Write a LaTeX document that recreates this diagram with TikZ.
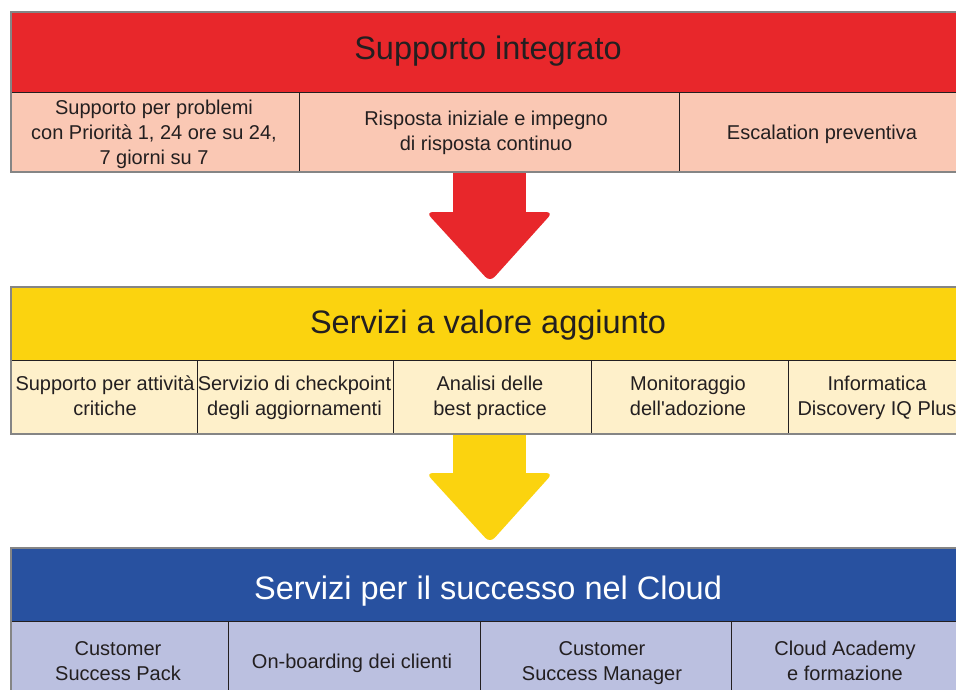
\documentclass[tikz,border=0pt]{standalone}
\usepackage{fontspec}
\setmainfont{Liberation Sans}
\newfontfamily\plainap{Liberation Sans}
\definecolor{redA}{HTML}{E8272B}
\definecolor{salmonA}{HTML}{FAC8B4}
\definecolor{yellowA}{HTML}{FBD30F}
\definecolor{creamA}{HTML}{FEF0CA}
\definecolor{blueA}{HTML}{2851A0}
\definecolor{lavA}{HTML}{BBC0E0}
\definecolor{inkA}{HTML}{231F20}
\definecolor{edgeA}{HTML}{858585}
\tikzset{
  outline/.style={draw=edgeA, line width=1.5pt},
  sepline/.style={draw=inkA, line width=1pt},
  titletext/.style={font=\fontsize{32.5}{38}\selectfont, text=inkA, inner sep=0pt, anchor=base},
  celltext/.style={font=\fontsize{20}{25}\selectfont, text=inkA, align=center, inner sep=0pt},
}
\newcommand\lnst{\strut}
\begin{document}
\begin{tikzpicture}[x=1pt,y=-1pt]
\useasboundingbox (0,0) rectangle (956,689);
\fill[white] (0,0) rectangle (956,689);

% arrows (drawn first, boxes cover shaft tops)
\fill[redA] (453,165) rectangle (526,214);
\fill[redA, rounded corners=7pt] (426,212) -- (490,282) -- (553,212) -- cycle;
\fill[yellowA] (453,428) rectangle (526,475);
\fill[yellowA, rounded corners=7pt] (426,473) -- (490,543) -- (553,473) -- cycle;

% box 1
\fill[redA] (11,12) rectangle (975,92);
\fill[salmonA] (11,92) rectangle (975,172);
\draw[sepline] (11,92) -- (975,92);
\draw[sepline] (299,92) -- (299,172);
\draw[sepline] (679,92) -- (679,172);
\draw[outline] (975,12) -- (11,12) -- (11,172) -- (975,172);

% box 2
\fill[yellowA] (11,287) rectangle (975,360);
\fill[creamA] (11,360) rectangle (975,434);
\draw[sepline] (11,360) -- (975,360);
\draw[sepline] (197,360) -- (197,434);
\draw[sepline] (393,360) -- (393,434);
\draw[sepline] (591,360) -- (591,434);
\draw[sepline] (788,360) -- (788,434);
\draw[outline] (975,287) -- (11,287) -- (11,434) -- (975,434);

% box 3
\fill[blueA] (11,548) rectangle (975,621);
\fill[lavA] (11,621) rectangle (975,700);
\draw[sepline] (11,621) -- (975,621);
\draw[sepline] (228,621) -- (228,700);
\draw[sepline] (480,621) -- (480,700);
\draw[sepline] (731,621) -- (731,700);
\draw[outline] (975,548) -- (11,548) -- (11,700);

% titles
\node[titletext] (t1) at (488,59) {Supporto integrato};
\node[titletext] (t2) at (488,333) {Servizi a valore aggiunto};
\node[titletext, text=white] (t3) at (488,599) {Servizi per il successo nel Cloud};

% row 1
\node[celltext] (a1) at (154,134.5) {\lnst Supporto per problemi\\\lnst con Priorità 1, 24 ore su 24,\\\lnst 7 giorni su 7};
\node[celltext] (a2) at (486,132.5) {\lnst Risposta iniziale e impegno\\\lnst di risposta continuo};
\node[celltext] (a3) at (822,134) {\lnst Escalation preventiva};

% row 2
\node[celltext] (b1) at (105,397.5) {\lnst Supporto per attività\\\lnst critiche};
\node[celltext] (b2) at (294.5,397.5) {\lnst Servizio di checkpoint\\\lnst degli aggiornamenti};
\node[celltext] (b3) at (490,397.5) {\lnst Analisi delle\\\lnst best practice};
\node[celltext] (b4) at (688,397.5) {\lnst Monitoraggio\\\lnst dell{\plainap'}adozione};
\node[celltext] (b5) at (877,397.5) {\lnst Informatica\\\lnst Discovery IQ Plus};

% row 3
\node[celltext] (c1) at (118,662.5) {\lnst Customer\\\lnst Success Pack};
\node[celltext] (c2) at (352,663) {\lnst On-boarding dei clienti};
\node[celltext] (c3) at (602,662.5) {\lnst Customer\\\lnst Success Manager};
\node[celltext] (c4) at (845,662.5) {\lnst Cloud Academy\\\lnst e formazione};
\end{tikzpicture}
\end{document}
